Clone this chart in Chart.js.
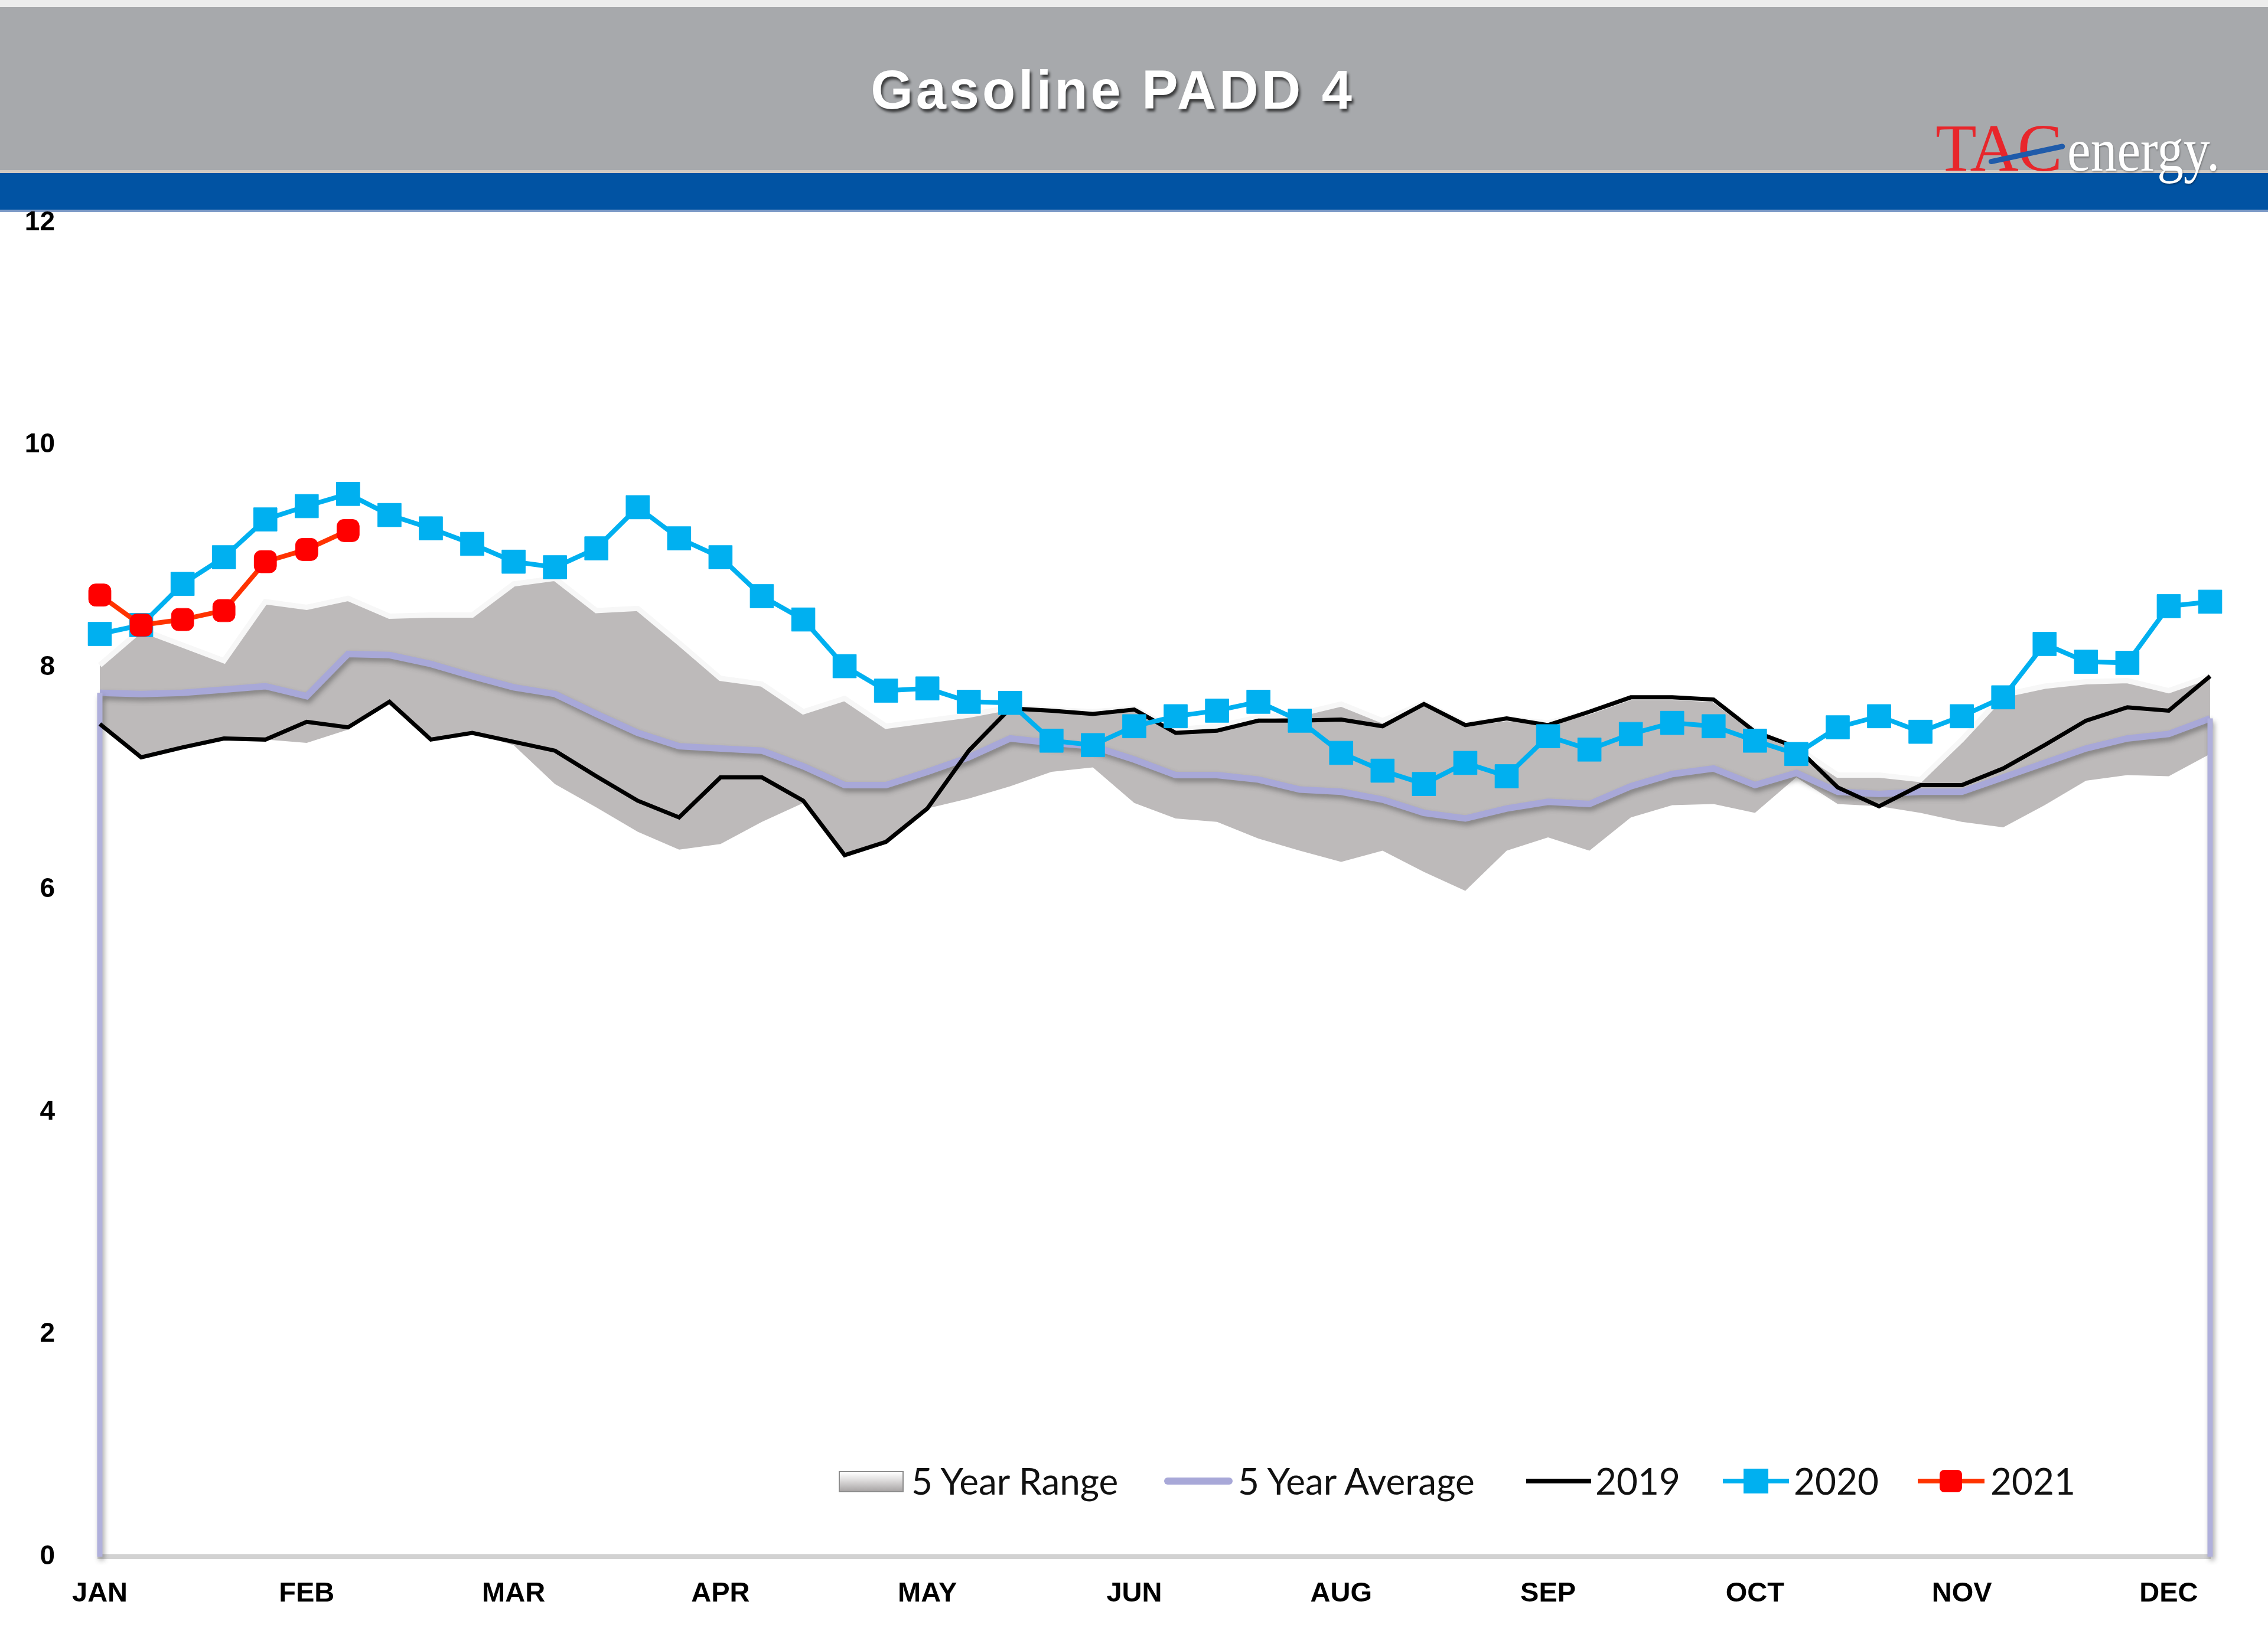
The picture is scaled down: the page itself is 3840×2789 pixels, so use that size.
<!DOCTYPE html>
<html><head><meta charset="utf-8">
<script src="https://cdn.jsdelivr.net/npm/chart.js@4.4.1/dist/chart.umd.min.js"></script>
<style>
html,body{margin:0;padding:0;background:#fff;}
#page{position:relative;width:3840px;height:2789px;overflow:hidden;background:#fff;}
#topline{position:absolute;left:0;top:0;width:3840px;height:12px;background:#EDEDED;}
#hdr{position:absolute;left:0;top:12px;width:3840px;height:278px;background:#A7A9AC;}
#sep{position:absolute;left:0;top:288px;width:3840px;height:5px;background:#CFC9C2;}
#band{position:absolute;left:0;top:293px;width:3840px;height:62px;background:#0153A3;}
#bandedge{position:absolute;left:0;top:355px;width:3840px;height:4px;background:#7F9CC8;}
#title{position:absolute;left:0;width:3768px;top:152px;transform:translateY(-50%);text-align:center;font-family:"Liberation Sans",Arial,sans-serif;font-weight:bold;font-size:92px;letter-spacing:5px;color:#fff;text-shadow:3px 5px 4px rgba(0,0,0,0.65);line-height:1;}
.logo{position:absolute;font-family:"Liberation Serif","Times New Roman",serif;line-height:1;white-space:nowrap;}
#tac{left:3277px;top:194px;font-size:114px;color:#E8262B;letter-spacing:-2px;}
#en{left:3500px;top:202px;font-size:104px;color:#fff;text-shadow:1px 2px 3px rgba(0,0,0,0.35);transform:scaleX(0.86);transform-origin:left center;}
#slash{position:absolute;left:3367px;top:270px;width:132px;height:9px;background:#1F5BAA;transform:rotate(-12deg);transform-origin:left center;border-radius:5px;}
#chart{position:absolute;left:0;top:0;}
.lg{position:absolute;font-family:Lato,"Open Sans",sans-serif;font-size:62px;line-height:1;color:#111;white-space:nowrap;top:2476px;}
.ic{position:absolute;}
</style>
</head><body>
<div id="page">
  <div id="topline"></div>
  <div id="hdr"></div>
  <div id="sep"></div>
  <div id="band"></div>
  <div id="bandedge"></div>
  <div id="title">Gasoline PADD 4</div>
  <div class="logo" id="tac">TAC</div>
  <div class="logo" id="en">energy.</div>
  <div id="slash"></div>
  <canvas id="chart" width="3840" height="2789"></canvas>

  <div class="ic" style="left:1420px;top:2491px;width:106px;height:32px;background:linear-gradient(to bottom,#ffffff 0%,#dcdada 45%,#a8a5a5 100%);border:2px solid #8d8d8d;"></div>
  <div class="lg" style="left:1543px;">5 Year Range</div>
  <div class="ic" style="left:1971px;top:2502px;width:116px;height:12px;background:#A8A8D8;border-radius:6px;"></div>
  <div class="lg" style="left:2096px;">5 Year Average</div>
  <div class="ic" style="left:2584px;top:2504px;width:110px;height:8px;background:#000;"></div>
  <div class="lg" style="left:2701px;">2019</div>
  <div class="ic" style="left:2917px;top:2504px;width:112px;height:8px;background:#00B0F0;"></div>
  <div class="ic" style="left:2952px;top:2487px;width:42px;height:42px;background:#00B0F0;"></div>
  <div class="lg" style="left:3037px;">2020</div>
  <div class="ic" style="left:3247px;top:2504px;width:113px;height:8px;background:#FF3300;"></div>
  <div class="ic" style="left:3284px;top:2489px;width:38px;height:38px;background:#FF0000;border-radius:8px;"></div>
  <div class="lg" style="left:3370px;">2021</div>
</div>
<script>
const weeks = [1,2,3,4,5,6,7,8,9,10,11,12,13,14,15,16,17,18,19,20,21,22,23,24,25,26,
               27,28,29,30,31,32,33,34,35,36,37,38,39,40,41,42,43,44,45,46,47,48,49,50,51,52];
const monthTicks = ['JAN','FEB','MAR','APR','MAY','JUN','AUG','SEP','OCT','NOV','DEC'];
const yTicks = [0,2,4,6,8,10,12];

const rangeMax = [8.02,8.34,8.20,8.06,8.59,8.54,8.62,8.46,8.47,8.47,
                  8.75,8.80,8.51,8.53,8.22,7.90,7.85,7.60,7.72,7.47,
                  7.52,7.57,7.64,7.62,7.60,7.63,7.44,7.47,7.55,7.58,
                  7.67,7.52,7.68,7.49,7.54,7.50,7.60,7.73,7.73,7.71,
                  7.43,7.28,7.03,7.03,6.99,7.35,7.75,7.83,7.87,7.88,
                  7.79,7.92];
const rangeMin = [7.49,7.19,7.28,7.36,7.35,7.32,7.44,7.69,7.35,7.41,
                  7.30,6.95,6.74,6.52,6.36,6.41,6.61,6.78,6.31,6.43,
                  6.73,6.82,6.93,7.06,7.10,6.78,6.64,6.61,6.46,6.35,
                  6.25,6.35,6.16,5.99,6.35,6.47,6.35,6.65,6.76,6.77,
                  6.69,7.01,6.77,6.75,6.69,6.61,6.56,6.76,6.98,7.03,
                  7.02,7.22];
const avg5 = [7.77,7.76,7.77,7.80,7.83,7.74,8.12,8.11,8.03,7.92,
              7.82,7.76,7.58,7.41,7.29,7.27,7.25,7.11,6.94,6.94,
              7.06,7.19,7.36,7.32,7.29,7.17,7.03,7.03,6.99,6.90,
              6.88,6.81,6.69,6.64,6.73,6.79,6.77,6.93,7.04,7.09,
              6.94,7.05,6.88,6.86,6.88,6.88,7.01,7.14,7.27,7.36,
              7.40,7.54];
const y2019 = [7.49,7.19,7.28,7.36,7.35,7.51,7.46,7.69,7.35,7.41,
               7.33,7.25,7.02,6.80,6.65,7.01,7.01,6.80,6.31,6.43,
               6.73,7.25,7.63,7.61,7.58,7.62,7.41,7.43,7.52,7.52,
               7.53,7.47,7.67,7.48,7.54,7.48,7.60,7.73,7.73,7.71,
               7.42,7.28,6.92,6.75,6.94,6.94,7.09,7.30,7.52,7.64,
               7.61,7.92];
const y2020 = [8.30,8.38,8.75,8.99,9.33,9.45,9.56,9.37,9.25,9.11,
               8.95,8.90,9.07,9.44,9.16,8.99,8.64,8.43,8.01,7.79,
               7.81,7.69,7.68,7.34,7.30,7.47,7.56,7.61,7.69,7.52,
               7.23,7.07,6.95,7.14,7.02,7.38,7.26,7.40,7.50,7.47,
               7.34,7.22,7.46,7.56,7.42,7.56,7.73,8.21,8.05,8.04,
               8.55,8.59];
const y2021 = [8.65,8.38,8.43,8.51,8.95,9.06,9.23];

const AVG_INDEX = 2;
const avgPlugin = {
  id: 'avgStyle',
  beforeDatasetDraw(chart, args) {
    if (args.index !== AVG_INDEX) return;
    const ctx = chart.ctx;
    ctx.save();
    ctx.shadowColor = 'rgba(60,60,60,0.45)';
    ctx.shadowBlur = 8;
    ctx.shadowOffsetX = 3;
    ctx.shadowOffsetY = 6;
  },
  afterDatasetDraw(chart, args) {
    if (args.index !== AVG_INDEX) return;
    const ctx = chart.ctx;
    const pts = args.meta.data;
    const y0 = chart.scales.y.getPixelForValue(0);
    const first = pts[0], last = pts[pts.length - 1];
    ctx.strokeStyle = '#B0B0DC';
    ctx.lineWidth = 9;
    ctx.beginPath();
    ctx.moveTo(first.x, first.y); ctx.lineTo(first.x, y0);
    ctx.moveTo(last.x, last.y); ctx.lineTo(last.x, y0);
    ctx.stroke();
    ctx.restore();
  }
};

new Chart(document.getElementById('chart'), {
  type: 'line',
  data: {
    labels: weeks,
    datasets: [
      { label: '5 Year Range', data: rangeMax, fill: 1, backgroundColor: '#BDBABA',
        borderColor: '#F7F7F7', borderWidth: 9, pointRadius: 0, tension: 0, order: 6 },
      { label: 'range min', data: rangeMin, fill: false, borderWidth: 0, borderColor: 'rgba(0,0,0,0)',
        pointRadius: 0, order: 6 },
      { label: '5 Year Average', data: avg5, fill: false, borderColor: '#A8A8D8', borderWidth: 11,
        pointRadius: 0, order: 5 },
      { label: '2019', data: y2019, fill: false, borderColor: '#000000', borderWidth: 7,
        pointRadius: 0, order: 4 },
      { label: '2020', data: y2020, fill: false, borderColor: '#00B0F0', borderWidth: 8,
        pointStyle: 'rect', pointRadius: 28, pointBackgroundColor: '#00B0F0',
        pointBorderColor: '#00B0F0', pointBorderWidth: 1, order: 3 },
      { label: '2021', data: y2021, fill: false, borderColor: '#FF3300', borderWidth: 8,
        pointStyle: 'rectRounded', pointRadius: 22, pointBackgroundColor: '#FF0000',
        pointBorderColor: '#FF0000', pointBorderWidth: 1, order: 2 }
    ]
  },
  options: {
    responsive: false,
    animation: false,
    devicePixelRatio: 1,
    layout: { padding: { top: 377, right: 98, left: 0, bottom: 0 } },
    plugins: { legend: { display: false }, tooltip: { enabled: false }, title: { display: false } },
    scales: {
      x: {
        type: 'category', offset: false,
        afterFit(s) { s.height = 153; },
        grid: { display: false, drawTicks: false, tickLength: 0 },
        border: { display: true, color: '#D2D2D2', width: 8 },
        ticks: {
          autoSkip: false, maxRotation: 0, minRotation: 0, padding: 35, color: '#000',
          font: { family: '"Liberation Sans", Arial, sans-serif', weight: 'bold', size: 47 },
          callback: (v, i) => (i % 5 === 0 ? monthTicks[i / 5] : '')
        }
      },
      y: {
        min: 0, max: 12,
        afterFit(s) { s.width = 169; },
        afterBuildTicks(s) { s.ticks = yTicks.map(v => ({ value: v })); },
        grid: { display: false, drawTicks: false, tickLength: 0 },
        border: { display: false },
        ticks: {
          padding: 76, color: '#000',
          font: { family: '"Liberation Sans", Arial, sans-serif', weight: 'bold', size: 46 }
        }
      }
    }
  },
  plugins: [avgPlugin]
});
</script>
</body></html>
